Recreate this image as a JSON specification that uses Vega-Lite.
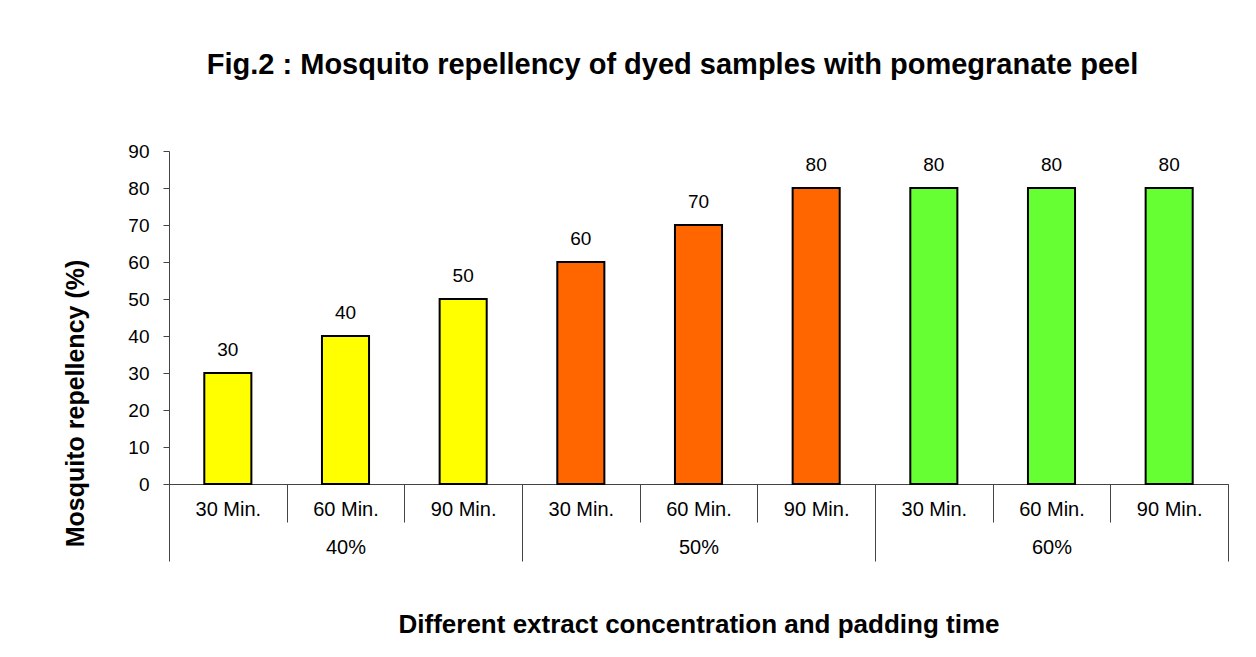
{
  "$schema": "https://vega.github.io/schema/vega-lite/v6.json",
  "width": 1059,
  "height": 333,
  "autosize": {"type": "none"},
  "padding": {"left": 169, "top": 151, "right": 28, "bottom": 173},
  "background": "white",
  "config": {
    "font": "Liberation Sans",
    "view": {"stroke": null},
    "axis": {"grid": false, "domainColor": "#444", "tickColor": "#444", "labelColor": "black", "titleColor": "black", "labelFont": "Liberation Sans", "titleFont": "Liberation Sans"}
  },
  "title": {
    "text": "Fig.2 : Mosquito repellency of dyed samples with pomegranate peel",
    "fontSize": 29,
    "fontWeight": "bold",
    "font": "Liberation Sans",
    "color": "black",
    "anchor": "middle",
    "dx": -26,
    "offset": 62
  },
  "data": {
    "values": [
      {"cat": "40%|30 Min.", "group": "40%", "time": "30 Min.", "value": 30},
      {"cat": "40%|60 Min.", "group": "40%", "time": "60 Min.", "value": 40},
      {"cat": "40%|90 Min.", "group": "40%", "time": "90 Min.", "value": 50},
      {"cat": "50%|30 Min.", "group": "50%", "time": "30 Min.", "value": 60},
      {"cat": "50%|60 Min.", "group": "50%", "time": "60 Min.", "value": 70},
      {"cat": "50%|90 Min.", "group": "50%", "time": "90 Min.", "value": 80},
      {"cat": "60%|30 Min.", "group": "60%", "time": "30 Min.", "value": 80},
      {"cat": "60%|60 Min.", "group": "60%", "time": "60 Min.", "value": 80},
      {"cat": "60%|90 Min.", "group": "60%", "time": "90 Min.", "value": 80}
    ]
  },
  "layer": [
    {
      "encoding": {
        "x": {
          "field": "cat", "type": "nominal", "sort": null,
          "scale": {"paddingInner": 0, "paddingOuter": 0},
          "axis": {
            "orient": "bottom",
            "title": null, "labelAngle": 0, "labelFontSize": 20,
            "labelExpr": "split(datum.label, '|')[1]",
            "tickBand": "extent", "tickSize": 38, "labelPadding": -23,
            "domain": true
          }
        },
        "y": {
          "field": "value", "type": "quantitative",
          "scale": {"domain": [0, 90]},
          "axis": {
            "title": "Mosquito repellency (%)", "titleFontSize": 25, "titleFontWeight": "bold",
            "titlePadding": 39, "titleY": 252, "values": [0,10,20,30,40,50,60,70,80,90],
            "labelOverlap": false,
            "labelFontSize": 19, "tickSize": 6, "labelPadding": 14
          }
        }
      },
      "layer": [
        {
          "mark": {"type": "bar", "stroke": "black", "strokeWidth": 2, "width": {"band": 0.4}},
          "encoding": {
            "fill": {
              "field": "group", "type": "nominal",
              "scale": {"domain": ["40%", "50%", "60%"], "range": ["#FFFF00", "#FF6600", "#66FF33"]},
              "legend": null
            }
          }
        },
        {
          "mark": {"type": "text", "fontSize": 19, "dy": -17, "baseline": "alphabetic", "color": "black"},
          "encoding": {
            "text": {"field": "value", "type": "quantitative"}
          }
        }
      ]
    },
    {
      "mark": {"type": "point", "opacity": 0},
      "encoding": {
        "x": {
          "field": "group", "type": "nominal", "sort": null,
          "scale": {"paddingInner": 0, "paddingOuter": 0},
          "axis": {
            "orient": "bottom",
            "title": "Different extract concentration and padding time",
            "titleFontSize": 26, "titleFontWeight": "bold", "titlePadding": 50,
            "labelAngle": 0, "labelFontSize": 20, "domain": false,
            "tickBand": "extent", "tickSize": 77, "labelPadding": -24
          }
        }
      }
    }
  ],
  "resolve": {"scale": {"x": "independent"}}
}
